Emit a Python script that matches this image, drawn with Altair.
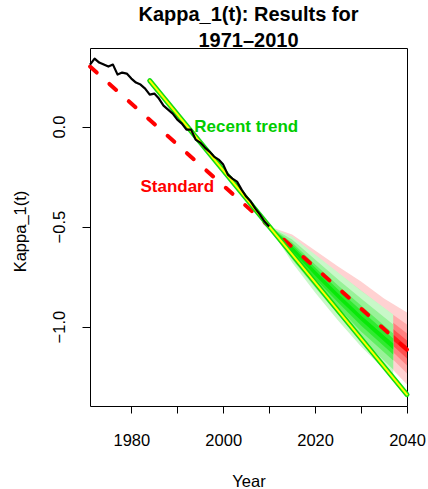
import altair as alt
import pandas as pd

FONT = "Liberation Sans"

# ---- data ----
hist_years = list(range(1971, 2011))
kappa_hist = [0.31, 0.34, 0.32, 0.31, 0.30, 0.31, 0.26, 0.27, 0.265, 0.24,
              0.22, 0.21, 0.19, 0.16, 0.165, 0.14, 0.105, 0.085, 0.065, 0.035,
              0.015, -0.015, -0.015, -0.065, -0.08, -0.105, -0.125, -0.15, -0.165, -0.19,
              -0.24, -0.26, -0.275, -0.315, -0.35, -0.375, -0.41, -0.44, -0.475, -0.50]

std_years = [1971, 2040]
std_vals = [0.30, -1.115]

trend_years = [1984, 2040]
trend_vals = [0.23, -1.34]

red_fan_years = [2010, 2015, 2020, 2025, 2030, 2035, 2040]
red_bands = [  # (lower, upper, colour) from outer to inner
    ([-0.50, -0.66, -0.79, -0.92, -1.05, -1.17, -1.29],
     [-0.50, -0.54, -0.62, -0.70, -0.775, -0.86, -0.93], "#FFD2D2"),
    ([-0.50, -0.645, -0.765, -0.89, -1.00, -1.12, -1.235],
     [-0.50, -0.56, -0.645, -0.735, -0.82, -0.91, -0.99], "#FFABAB"),
    ([-0.50, -0.63, -0.745, -0.865, -0.97, -1.085, -1.195],
     [-0.50, -0.57, -0.665, -0.76, -0.85, -0.945, -1.035], "#FF8080"),
    ([-0.50, -0.62, -0.73, -0.845, -0.945, -1.055, -1.16],
     [-0.50, -0.58, -0.68, -0.78, -0.875, -0.975, -1.07], "#FF5050"),
    ([-0.50, -0.61, -0.715, -0.825, -0.925, -1.03, -1.13],
     [-0.50, -0.59, -0.695, -0.80, -0.90, -1.00, -1.10], "#FF1A1A"),
]

green_fan_years = [2010, 2015, 2020, 2025, 2030, 2037]
green_bands = [
    ([-0.50, -0.68, -0.83, -0.97, -1.10, -1.26],
     [-0.50, -0.55, -0.64, -0.73, -0.82, -0.94], "#C8F8C8"),
    ([-0.50, -0.665, -0.805, -0.94, -1.06, -1.215],
     [-0.50, -0.565, -0.665, -0.765, -0.86, -0.99], "#98F298"),
    ([-0.50, -0.65, -0.78, -0.905, -1.025, -1.17],
     [-0.50, -0.58, -0.69, -0.795, -0.895, -1.035], "#62EE62"),
    ([-0.50, -0.635, -0.76, -0.88, -0.995, -1.14],
     [-0.50, -0.59, -0.705, -0.815, -0.92, -1.06], "#30EA30"),
    ([-0.50, -0.62, -0.745, -0.86, -0.97, -1.115],
     [-0.50, -0.60, -0.72, -0.835, -0.945, -1.085], "#08E808"),
]

label_texts = ["Recent trend", "Standard"]
label_years = [2005.0, 1990.0]
label_vals = [-0.004, -0.304]
label_colors = ["#00CC00", "#FF0000"]

x_ticks = [1980, 1990, 2000, 2010, 2020, 2030, 2040]
y_ticks = [-1.0, -0.5, 0.0]

# ---- scales & axes ----
x_scale = alt.Scale(domain=[1971, 2040], nice=False, zero=False)
y_scale = alt.Scale(domain=[-1.397, 0.393], nice=False, zero=False)

x_axis = alt.Axis(
    title="Year", values=x_ticks, format="d",
    labelExpr="datum.value % 20 == 0 ? datum.label : ''",
    labelFlush=False, labelOverlap=False,
    tickSize=7, tickColor="black", labelPadding=19,
    labelFont=FONT, labelFontSize=16.5, labelColor="black",
    titleFont=FONT, titleFontSize=16.5, titleFontWeight="normal", titleColor="black",
    titleBaseline="alphabetic", titleY=80.5,
    grid=False, domain=False,
)
y_axis = alt.Axis(
    title="Kappa_1(t)", values=y_ticks, format=".1f",
    labelAngle=270, labelAlign="center", labelBaseline="alphabetic",
    labelFlush=False, labelOverlap=False,
    tickSize=8, tickColor="black", labelPadding=18,
    labelFont=FONT, labelFontSize=16.5, labelColor="black",
    titleFont=FONT, titleFontSize=16.5, titleFontWeight="normal", titleColor="black",
    titleAngle=270, titleBaseline="alphabetic", titleAlign="center",
    titleX=-65, titleY=183,
    grid=False, domain=False,
)


def X(field):
    return alt.X(field, type="quantitative", scale=x_scale, axis=x_axis)


def Y(field):
    return alt.Y(field, type="quantitative", scale=y_scale, axis=y_axis)


layers = []
for years, bands in [(red_fan_years, red_bands), (green_fan_years, green_bands)]:
    for lo, hi, col in bands:
        df = pd.DataFrame({"year": years, "lo": lo, "hi": hi})
        layers.append(
            alt.Chart(df).mark_area(color=col, opacity=1, interpolate="linear")
            .encode(x=X("year"), y=Y("lo"), y2="hi")
        )

std_df = pd.DataFrame({"year": std_years, "kappa": std_vals})
layers.append(
    alt.Chart(std_df).mark_line(color="#FF0000", strokeWidth=4, strokeDash=[9, 17], strokeCap="round")
    .encode(x=X("year"), y=Y("kappa"))
)

trend_df = pd.DataFrame({"year": trend_years, "kappa": trend_vals})
layers.append(
    alt.Chart(trend_df).mark_line(color="#11DD11", strokeWidth=5, strokeCap="round")
    .encode(x=X("year"), y=Y("kappa"))
)
layers.append(
    alt.Chart(trend_df).mark_line(color="#FFFF00", strokeWidth=2, strokeCap="round")
    .encode(x=X("year"), y=Y("kappa"))
)

hist_df = pd.DataFrame({"year": hist_years, "kappa": kappa_hist})
layers.append(
    alt.Chart(hist_df).mark_line(color="black", strokeWidth=2.2, strokeJoin="round")
    .encode(x=X("year"), y=Y("kappa"))
)

lab_df = pd.DataFrame({"year": label_years, "kappa": label_vals,
                       "txt": label_texts, "col": label_colors})
layers.append(
    alt.Chart(lab_df).mark_text(font=FONT, fontSize=17, fontWeight="bold",
                                align="center", baseline="middle")
    .encode(x=X("year"), y=Y("kappa"), text="txt:N",
            color=alt.Color("col:N", scale=None))
)

chart = alt.layer(*layers).properties(
    width=317, height=358,
    title=alt.TitleParams(["Kappa_1(t): Results for", "1971\u20132010"],
                          font=FONT, fontSize=20, fontWeight="bold", color="black",
                          anchor="middle", lineHeight=25.7, offset=0, dy=3,
                          baseline="top"),
    autosize=alt.AutoSizeParams(type="none"),
    padding={"left": 90, "top": 48, "right": 21, "bottom": 83},
    background="white",
).configure_view(stroke="black", strokeWidth=1)

chart.save("out.html", embed_options={"renderer": "svg", "actions": False})
